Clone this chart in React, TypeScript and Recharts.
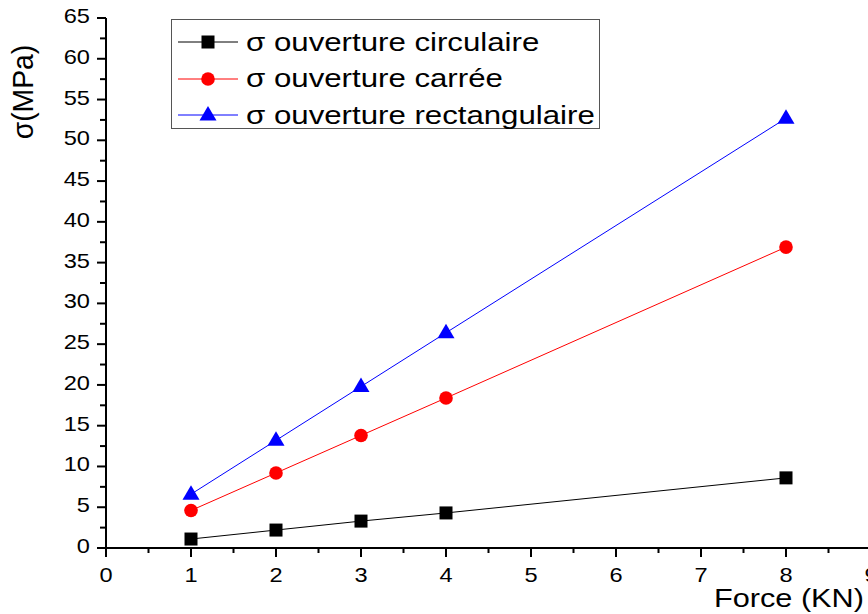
import React from 'react';
import { LineChart, Line, XAxis, YAxis, Legend } from 'recharts';

const forces = [1, 2, 3, 4, 8];
const circulaire = [1.1, 2.2, 3.3, 4.3, 8.6];
const carree = [4.6, 9.2, 13.8, 18.4, 36.9];
const rectangulaire = [6.6, 13.2, 19.8, 26.4, 52.7];

const xTicks = [0, 0.5, 1, 1.5, 2, 2.5, 3, 3.5, 4, 4.5, 5, 5.5, 6, 6.5, 7, 7.5, 8, 8.5, 9];
const yTicks = Array.from({ length: 27 }, (_, i) => i * 2.5);

const series = [
  { key: 'circ', name: 'σ ouverture circulaire', color: '#000000', values: circulaire },
  { key: 'carr', name: 'σ ouverture carrée', color: '#ff0000', values: carree },
  { key: 'rect', name: 'σ ouverture rectangulaire', color: '#0000ff', values: rectangulaire },
];

const data = forces.map((f, i) => ({
  force: f,
  circ: circulaire[i],
  carr: carree[i],
  rect: rectangulaire[i],
}));

const FONT = '"Liberation Sans", Arial, sans-serif';
const STRETCH = 1.18;

// text drawn a bit wider than normal, like the reference
function WideText({ x, y, size, anchor, children }: any) {
  return (
    <text
      transform={`translate(${x},${y}) scale(${STRETCH},1)`}
      textAnchor={anchor}
      fontSize={size}
      fontFamily={FONT}
      fill="#000"
    >
      {children}
    </text>
  );
}

function Marker({ kind, cx, cy, color }: any) {
  if (kind === 'circ') return <rect x={cx - 6.5} y={cy - 6.5} width={13} height={13} fill={color} />;
  if (kind === 'carr') return <circle cx={cx} cy={cy} r={6.8} fill={color} />;
  return <path d={`M${cx},${cy - 9} L${cx + 8.5},${cy + 5.5} L${cx - 8.5},${cy + 5.5} Z`} fill={color} />;
}

const XTick = (props: any) => {
  const { x, y, payload } = props;
  const v = payload.value;
  const major = Number.isInteger(v);
  return (
    <g>
      <line x1={x} x2={x} y1={y} y2={y + (major ? 9 : 5)} stroke="#000" strokeWidth={2} />
      {major && (
        <WideText x={x} y={y + 34} size={20} anchor="middle">
          {v}
        </WideText>
      )}
    </g>
  );
};

const YTick = (props: any) => {
  const { x, y, payload } = props;
  const v = payload.value;
  const major = v % 5 === 0;
  return (
    <g>
      <line x1={x} x2={x - (major ? 9 : 6)} y1={y} y2={y} stroke="#000" strokeWidth={2} />
      {major && (
        <WideText x={x - 16} y={y + 5} size={20} anchor="end">
          {v}
        </WideText>
      )}
    </g>
  );
};

const LegendBox = () => (
  <div
    style={{
      width: 429,
      height: 110,
      border: '1px solid #555',
      background: '#fff',
      fontFamily: FONT,
      fontSize: 26,
      boxSizing: 'border-box',
      paddingTop: 4,
    }}
  >
    {series.map((s) => (
      <div key={s.key} style={{ display: 'flex', alignItems: 'center', height: 36.5 }}>
        <svg width={74} height={24} style={{ flex: 'none' }}>
          <line x1={6} x2={66} y1={12} y2={12} stroke={s.color} strokeWidth={1} />
          <Marker kind={s.key} cx={36} cy={12} color={s.color} />
        </svg>
        <span
          style={{
            color: '#000',
            whiteSpace: 'nowrap',
            display: 'inline-block',
            transform: `scaleX(${STRETCH + 0.02})`,
            transformOrigin: 'left center',
          }}
        >
          {s.name}
        </span>
      </div>
    ))}
  </div>
);

export default function App() {
  return (
    <div style={{ position: 'absolute', left: 0, top: 0, width: 868, height: 614, overflow: 'hidden', background: '#fff' }}>
      <LineChart width={880} height={614} data={data} margin={{ top: 18, right: 9, bottom: 0, left: 0 }}>
        <XAxis
          dataKey="force"
          type="number"
          domain={[0, 9]}
          ticks={xTicks}
          interval={0}
          height={66}
          tickSize={0}
          tickMargin={0}
          tickLine={false}
          axisLine={{ stroke: '#000', strokeWidth: 2 }}
          tick={<XTick />}
          label={() => (
            <WideText x={714} y={607} size={26} anchor="start">
              Force (KN)
            </WideText>
          )}
        />
        <YAxis
          type="number"
          domain={[0, 65]}
          ticks={yTicks}
          interval={0}
          width={106}
          tickSize={0}
          tickMargin={0}
          tickLine={false}
          axisLine={{ stroke: '#000', strokeWidth: 2 }}
          tick={<YTick />}
          label={() => (
            <text
              transform="translate(33,92) rotate(-90) scale(1.05,1.1)"
              textAnchor="middle"
              fontSize={27}
              fontFamily={FONT}
              fill="#000"
            >
              σ(MPa)
            </text>
          )}
        />
        <Legend
          layout="horizontal"
          verticalAlign="middle"
          align="center"
          content={<LegendBox />}
          wrapperStyle={{ position: 'absolute', top: 19, left: 171, width: 'auto' }}
        />
        {series.map((s) => (
          <Line
            key={s.key}
            dataKey={s.key}
            name={s.name}
            stroke={s.color}
            strokeWidth={1}
            isAnimationActive={false}
            dot={(p: any) => <Marker key={`${s.key}-${p.index}`} kind={s.key} cx={p.cx} cy={p.cy} color={s.color} />}
            activeDot={false}
          />
        ))}
      </LineChart>
    </div>
  );
}
